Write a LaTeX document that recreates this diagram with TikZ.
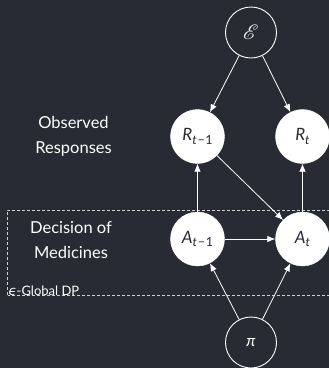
\documentclass[tikz,border=0pt]{standalone}
\usepackage{fontspec}
\usepackage{mathrsfs}
\setmainfont{Lato}
\newfontfamily\greekfont{DejaVu Sans}
\usetikzlibrary{arrows.meta}
\definecolor{bgdark}{HTML}{282B33}
\definecolor{framegray}{HTML}{D0D0D0}
% index set below the letter, in a slightly smaller size
\newcommand{\idx}[1]{\raisebox{-3.4pt}{\fontsize{12.5}{13}\selectfont #1}}
\newcommand{\tminus}{{\itshape t}\kern0.8pt−\kern0.6pt1}
\begin{document}
\begin{tikzpicture}[x=1pt,y=1pt,
  filled/.style={circle, fill=white, draw=white, minimum size=54pt, inner sep=0pt, text=bgdark, font=\fontsize{17}{18}\selectfont},
  hollow/.style={circle, fill=bgdark, draw=white, line width=0.9pt, minimum size=51pt, inner sep=0pt, text=white, font=\fontsize{16}{17}\selectfont},
  edge/.style={draw=white, line width=0.8pt, -{Latex[length=8pt,width=6.5pt]}},
  sidelabel/.style={text=white, align=center, font=\fontsize{16.5}{25}\selectfont},
  framelabel/.style={text=white, anchor=south west, inner sep=1pt, font=\fontsize{13}{14}\selectfont}]
  \useasboundingbox (0,0) rectangle (329,-368);
  \fill[bgdark] (0,0) rectangle (329,-368);
  \clip (0,0) rectangle (329,-368);

  % private-release boundary around the decision layer
  \draw[framegray, line width=0.7pt, dash pattern=on 3pt off 2pt] (7.5,-295) -- (7.5,-210) -- (340,-210);
  \draw[framegray, line width=0.7pt, dash pattern=on 3pt off 2pt] (7.5,-295) -- (340,-295);
  \node[framelabel] (dp) at (7.5,-297) {{\greekfont\itshape ϵ}-Global DP};

  % layer captions
  \node[sidelabel] (obs) at (73.5,-136) {Observed\\Responses};
  \node[sidelabel] (dec) at (71,-240) {Decision of\\Medicines};

  % graph nodes
  \node[hollow] (env) at (251,-32.5) {\fontsize{20}{20}\selectfont$\mathscr{E}$};
  \node[filled] (r1) at (197.5,-136.5) {{\itshape R}\idx{\tminus}};
  \node[filled] (r2) at (302.5,-136.5) {{\itshape R}\idx{\itshape t}};
  \node[filled] (a1) at (197.5,-239) {{\itshape A}\idx{\tminus}};
  \node[filled] (a2) at (302.5,-239) {{\itshape A}\idx{\itshape t}};
  \node[hollow] (pol) at (251,-342.5) {{\itshape π}};

  % dependencies
  \draw[edge] (env) -- (r1);
  \draw[edge] (env) -- (r2);
  \draw[edge] (a1) -- (r1);
  \draw[edge] (a2) -- (r2);
  \draw[edge] (r1) -- (a2);
  \draw[edge] (a1) -- (a2);
  \draw[edge] (pol) -- (a1);
  \draw[edge] (pol) -- (a2);
\end{tikzpicture}
\end{document}
